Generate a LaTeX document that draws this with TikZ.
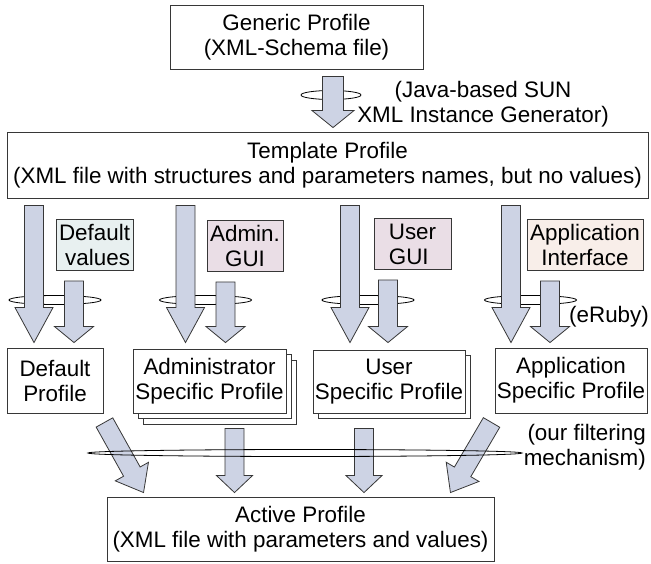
\documentclass[tikz,border=0pt]{standalone}
\usepackage{fontspec}
\setmainfont{Liberation Sans}
\usepackage{tikz}
\usetikzlibrary{calc, shadows}
\usepackage{xcolor}

\definecolor{arrowfill}{RGB}{205,211,228}
\definecolor{boxline}{RGB}{55,55,55}
\definecolor{valfill}{RGB}{232,240,240}
\definecolor{guifill}{RGB}{234,222,230}
\definecolor{apifill}{RGB}{248,238,233}

\tikzset{
  profbox/.style={draw=boxline, line width=0.9pt, fill=white, inner sep=0pt, align=center, font=\fontsize{22.4}{25}\selectfont},
  srcbox/.style={profbox, minimum height=51pt},
  stackone/.style={copy shadow={shadow xshift=5pt, shadow yshift=-5.5pt, draw=boxline, line width=0.9pt, fill=white}},
  stacktwo/.style={copy shadow={shadow xshift=10pt, shadow yshift=-11pt, draw=boxline, line width=0.9pt, fill=white}, stackone},
  ring/.style={draw=black, line width=0.8pt},
  barrow/.style={draw=boxline, line width=0.8pt, fill=arrowfill, line join=miter},
  note/.style={inner sep=0pt, align=center, font=\fontsize{22.4}{25}\selectfont}
}

% block arrow: from, to, shaft half width, head half width, head length
\newcommand{\blockarrow}[5]{%
  \path #1 coordinate (ba-a) #2 coordinate (ba-b);
  \path ($(ba-b)!#5!(ba-a)$) coordinate (ba-h);
  \draw[barrow] ($(ba-a)!#3!90:(ba-b)$) -- ($(ba-h)!#3!90:(ba-b)$) -- ($(ba-h)!#4!90:(ba-b)$)
    -- (ba-b) -- ($(ba-h)!#4!-90:(ba-b)$) -- ($(ba-h)!#3!-90:(ba-b)$) -- ($(ba-a)!#3!-90:(ba-b)$) -- cycle;}

\begin{document}
\begin{tikzpicture}[x=1pt, y=-1pt]
  \useasboundingbox (0,0) rectangle (651,563);

  % boxes
  \node[profbox, minimum width=253pt, minimum height=64pt] (gen) at (296.5,37) {Generic Profile\\(XML-Schema file)};
  \node[profbox, minimum width=641pt, minimum height=66pt] (tmpl) at (327.5,165) {Template Profile\\(XML file with structures and parameters names, but no values)};

  \node[srcbox, fill=valfill, minimum width=77pt, align=right] (defv) at (94.5,245) {Default\\values};
  \node[srcbox, fill=guifill, minimum width=76pt] (admg) at (245,246) {Admin.\\GUI};
  \node[srcbox, fill=guifill, minimum width=77pt, align=left] (usrg) at (412.5,244) {User\\GUI};
  \node[srcbox, fill=apifill, minimum width=116pt] (apig) at (585,245) {Application\\Interface};

  \node[profbox, minimum width=96pt, minimum height=65pt] (dprof) at (55,380.5) {Default\\Profile};
  \node[profbox, minimum width=153pt, minimum height=64pt, stacktwo] (aprof) at (209.5,381) {Administrator\\Specific Profile};
  \node[profbox, minimum width=152pt, minimum height=63pt, stackone] (uprof) at (389,381.5) {User\\Specific Profile};
  \node[profbox, minimum width=152pt, minimum height=65pt] (pprof) at (571,380.5) {Application\\Specific Profile};
  \node[profbox, minimum width=387pt, minimum height=64pt] (act) at (300.5,529) {Active Profile\\(XML file with parameters and values)};

  % labels
  \node[note] (java) at (483,104) {(Java-based SUN\\XML Instance Generator)};
  \node[note] (eruby) at (609,317) {(eRuby)};
  \node[note, align=right, anchor=east] (filt) at (646,447) {(our filtering\\mechanism)};

  % arrow columns
  \coordinate (c0) at (333,0);
  \coordinate (c1) at (34,0);
  \coordinate (c2) at (74,0);
  \coordinate (c3) at (185.5,0);
  \coordinate (c4) at (225.5,0);
  \coordinate (c5) at (350,0);
  \coordinate (c6) at (388,0);
  \coordinate (c7) at (511,0);
  \coordinate (c8) at (550,0);
  \coordinate (c9) at (234.5,0);
  \coordinate (c10) at (364,0);

  % rings behind the arrows
  \draw[ring] (331,95) ellipse [x radius=30pt, y radius=4.5pt];
  \foreach \x in {55,205.5,368,530.5}
    \draw[ring] (\x,300) ellipse [x radius=46pt, y radius=4.5pt];

  % generator
  \blockarrow{($(gen.south -| c0)+(0,7)$)}{($(tmpl.north -| c0)+(0,-4)$)}{10.5pt}{21pt}{17pt}

  % template to profiles
  \foreach \c in {c1,c3,c5,c7}{
    \blockarrow{($(tmpl.south -| \c)+(0,7)$)}{($(dprof.north -| \c)+(0,-5)$)}{9.5pt}{19pt}{35pt}}
  \foreach \c/\s in {c2/defv,c4/admg,c6/usrg,c8/apig}{
    \blockarrow{($(\s.south -| \c)+(0,10)$)}{($(dprof.north -| \c)+(0,-5)$)}{9.5pt}{19.5pt}{16pt}}

  % profiles to active
  \blockarrow{($(dprof.south east)+(1,9)$)}{($(act.north west)+(37,-4)$)}{9.5pt}{19pt}{24pt}
  \blockarrow{($(aprof.south -| c9)+(0,15)$)}{($(act.north -| c9)+(0,-4)$)}{9.5pt}{18pt}{17pt}
  \blockarrow{($(uprof.south -| c10)+(0,15)$)}{($(act.north -| c10)+(0,-4)$)}{9.5pt}{18pt}{17pt}
  \blockarrow{($(pprof.south west)+(-3,9)$)}{($(act.north east)+(-44,-4)$)}{9.5pt}{19pt}{24pt}

  \draw[ring] (305,453) ellipse [x radius=217pt, y radius=3.5pt];
\end{tikzpicture}
\end{document}
